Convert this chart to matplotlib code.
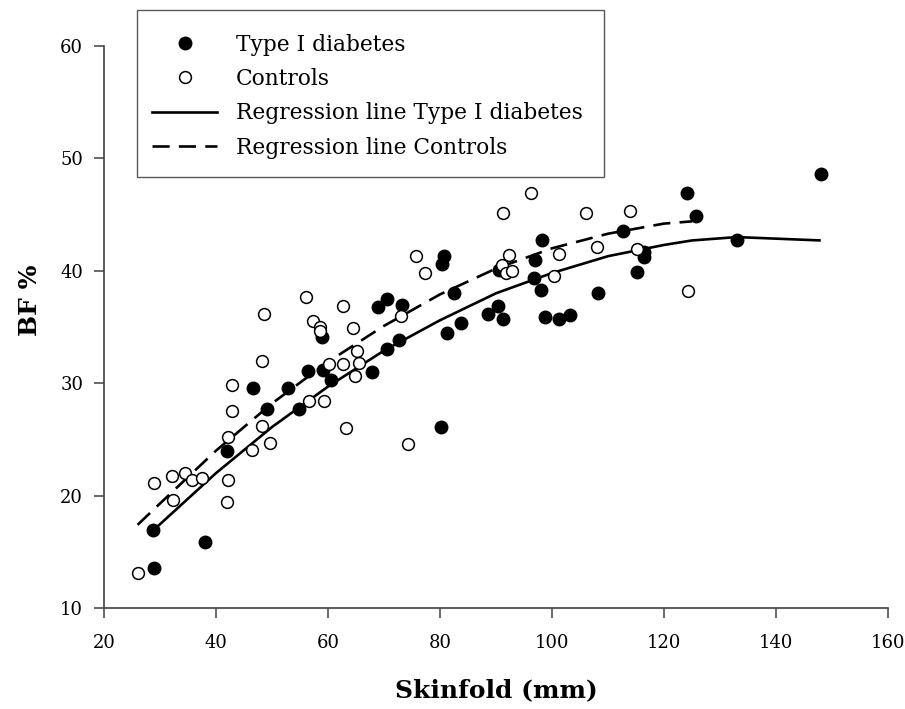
import matplotlib
matplotlib.use("Agg")
import matplotlib.pyplot as plt
from matplotlib.lines import Line2D
from matplotlib.patches import Rectangle

# Type I diabetes (filled)
t1_x = [28.8, 29.0, 38.1, 42.0, 49.1, 54.8, 46.6, 52.8, 56.4, 59.1, 58.9, 60.5,
        67.9, 70.6, 72.6, 68.9, 70.5, 73.3, 81.3, 83.7, 82.5, 80.8, 80.4, 80.1,
        88.6, 90.3, 91.3, 90.5, 96.9, 96.8, 98.1, 98.7, 101.2, 103.2, 98.2, 108.3,
        112.6, 115.2, 116.4, 116.5, 124.1, 125.7, 133.0, 148.0]
t1_y = [16.9, 13.6, 15.9, 24.0, 27.7, 27.7, 29.6, 29.6, 31.1, 31.2, 34.1, 30.3,
        31.0, 33.0, 33.8, 36.8, 37.5, 37.0, 34.5, 35.4, 38.0, 41.3, 40.6, 26.1,
        36.2, 36.9, 35.7, 40.1, 41.0, 39.4, 38.3, 35.9, 35.7, 36.1, 42.7, 38.0,
        43.5, 39.9, 41.7, 41.2, 46.9, 44.9, 42.7, 48.6]

# Controls (open)
ct_x = [26.0, 29.0, 32.1, 34.5, 35.7, 37.5, 32.4, 42.2, 42.0, 42.9, 42.1, 46.5,
        49.6, 48.3, 63.2, 56.6, 59.2, 56.0, 48.5, 62.6, 57.4, 58.5, 58.6, 64.5,
        48.3, 42.9, 60.1, 62.7, 65.1, 65.6, 64.9, 75.7, 77.4, 73.0, 74.3, 96.2,
        91.3, 106.0, 91.0, 92.4, 91.7, 92.9, 101.3, 100.3, 114.0, 108.1, 115.1, 124.3]
ct_y = [13.1, 21.1, 21.7, 22.0, 21.4, 21.6, 19.6, 21.4, 19.4, 27.5, 25.2, 24.1,
        24.7, 26.2, 26.0, 28.4, 28.4, 37.7, 36.2, 36.9, 35.5, 35.0, 34.6, 34.9,
        32.0, 29.8, 31.7, 31.7, 32.9, 31.8, 30.6, 41.3, 39.8, 36.0, 24.6, 46.9,
        45.1, 45.1, 40.5, 41.4, 39.8, 40.0, 41.5, 39.5, 45.3, 42.1, 41.9, 38.2]

# Regression lines
reg_t1_x = [29, 40, 50, 60, 70, 80, 90, 100, 110, 120, 125, 133, 148]
reg_t1_y = [17.0, 22.0, 26.1, 29.7, 32.9, 35.6, 38.0, 39.8, 41.3, 42.3, 42.7, 43.0, 42.7]
reg_ct_x = [26, 30, 40, 50, 60, 70, 80, 90, 100, 110, 120, 125]
reg_ct_y = [17.4, 19.3, 24.0, 28.2, 31.9, 35.1, 37.9, 40.2, 42.0, 43.3, 44.2, 44.4]

x_ticks = [20, 40, 60, 80, 100, 120, 140, 160]
y_ticks = [10, 20, 30, 40, 50, 60]

FONT = "DejaVu Serif"
plt.rcParams['font.family'] = [FONT]

W, H = 905, 709
fig = plt.figure(figsize=(W / 100, H / 100), dpi=100)
ax = fig.add_axes([104/W, 101/H, 784/W, 562/H])

ax.plot(reg_t1_x, reg_t1_y, color='black', lw=1.9, solid_capstyle='butt', zorder=2)
ax.plot(reg_ct_x, reg_ct_y, color='black', lw=1.9, linestyle=(0, (6.5, 3.5)), zorder=2)
ax.plot(t1_x, t1_y, 'o', ms=9, mfc='black', mec='black', mew=1, zorder=3)
ax.plot(ct_x, ct_y, 'o', ms=8.5, mfc='white', mec='black', mew=1.1, zorder=3)

ax.set_xlim(20, 160)
ax.set_ylim(10, 60)
ax.set_xticks(x_ticks)
ax.set_yticks(y_ticks)
for s in ['top', 'right']:
    ax.spines[s].set_visible(False)
for s in ['left', 'bottom']:
    ax.spines[s].set_color('#404040')
    ax.spines[s].set_linewidth(1.2)
ax.tick_params(direction='out', length=7, width=1.1, color='#404040',
               labelsize=13, pad=8)
ax.tick_params(axis='x', pad=12)

fig.text(496/W, 1 - 690/H, 'Skinfold (mm)', ha='center', va='center',
         fontsize=18, fontweight='bold')
fig.text(30/W, 1 - 300/H, 'BF %', ha='center', va='center',
         fontsize=18, fontweight='bold', rotation=90)

# legend frame
fig.patches.append(Rectangle((137/W, 1 - 177/H), (604 - 137)/W, (177 - 10)/H,
                             transform=fig.transFigure, fill=False,
                             edgecolor='#595959', lw=1.0, zorder=5))

handles = [
    Line2D([], [], marker='o', ls='none', ms=9, mfc='black', mec='black'),
    Line2D([], [], marker='o', ls='none', ms=8.5, mfc='white', mec='black', mew=1.1),
    Line2D([], [], color='black', lw=1.9),
    Line2D([], [], color='black', lw=1.9, linestyle=(0, (6.5, 3.5))),
]
labels = ['Type I diabetes', 'Controls', 'Regression line Type I diabetes',
          'Regression line Controls']
leg = fig.legend(handles, labels, loc='upper left',
                 bbox_to_anchor=(152/W, 1 - 33.5/H), fontsize=15.7,
                 frameon=False,
                 handlelength=3.0, handletextpad=0.85, labelspacing=0.57,
                 borderpad=0, borderaxespad=0)

fig.savefig('out.png', dpi=100)
